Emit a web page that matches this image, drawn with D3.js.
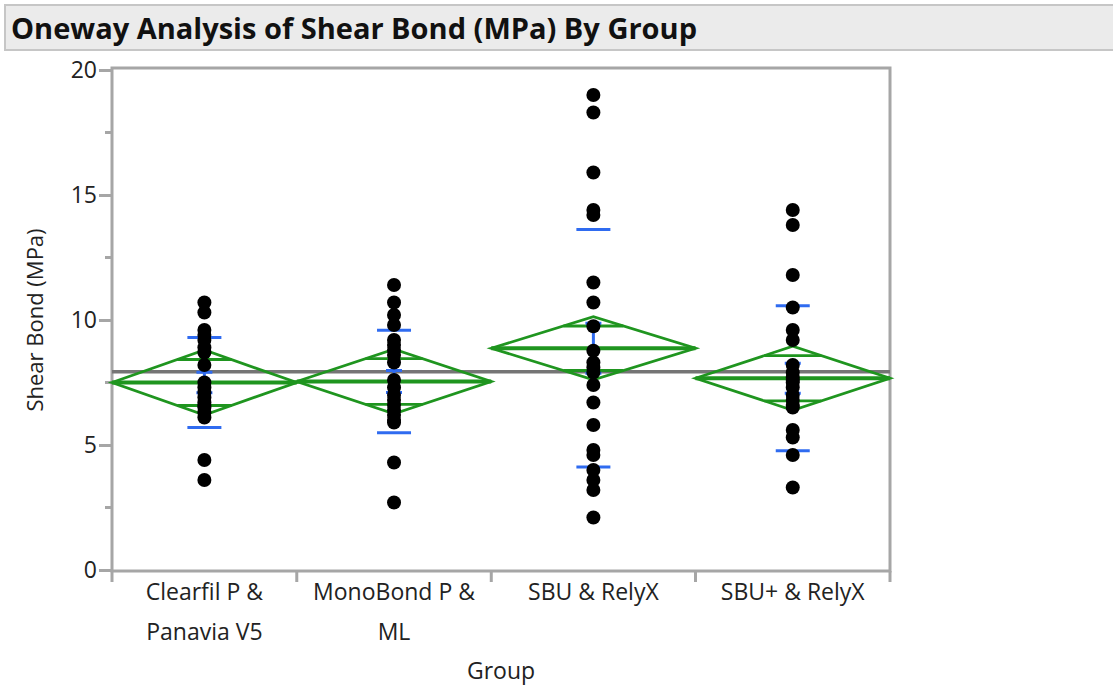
<!DOCTYPE html>
<html>
<head>
<meta charset="utf-8">
<script src="https://cdn.jsdelivr.net/npm/d3@7"></script>
<style>
  body { margin: 0; background: #fff; font-family: "Open Sans", "Noto Sans", sans-serif; }
</style>
</head>
<body>
<script>
// Group names and the points
const groups = ["Clearfil P & Panavia V5", "MonoBond P & ML", "SBU & RelyX", "SBU+ & RelyX"];
const groupLabels = [["Clearfil P &", "Panavia V5"], ["MonoBond P &", "ML"], ["SBU & RelyX"], ["SBU+ & RelyX"]];

const clearfil = [10.7, 10.3, 9.6, 9.4, 9.2, 8.9, 8.7, 8.2, 7.5, 7.3, 7.1, 6.9, 6.7, 6.6, 6.5, 6.3, 6.1, 4.4, 3.6];
const monobond = [11.4, 10.7, 10.2, 9.8, 9.2, 9.0, 8.8, 8.6, 8.3, 7.6, 7.3, 7.0, 6.8, 6.6, 6.4, 6.2, 6.0, 5.9, 4.3, 2.7];
const sbu = [19.0, 18.3, 15.9, 14.4, 14.2, 11.5, 10.7, 9.75, 8.77, 8.3, 8.1, 7.9, 7.4, 6.7, 5.8, 4.8, 4.6, 4.0, 3.6, 3.2, 2.1];
const sbuPlus = [14.4, 13.8, 11.8, 10.5, 9.6, 9.2, 8.2, 7.9, 7.7, 7.6, 7.5, 7.3, 7.0, 6.8, 6.6, 6.5, 5.6, 5.3, 4.6, 3.3];

// summary stats
const means = [7.50, 7.54, 8.87, 7.67];
const ciHalf = [1.30, 1.29, 1.26, 1.28];
const stdDev = [1.80, 2.05, 4.75, 2.90];
const stdErr = [0.41, 0.44, 1.00, 0.60];
const grandMean = 7.93;

const yTicks = [0, 5, 10, 15, 20];
const yMinor = [2.5, 7.5, 12.5, 17.5];

const series = [clearfil, monobond, sbu, sbuPlus];

const margin = { top: 70, left: 112, right: 223, bottom: 116 };
const W = 1113, H = 686;
const labelSize = 23;

const svg = d3.select("body").append("svg")
    .attr("width", W)
    .attr("height", H);

// Title bar
svg.append("rect")
    .attr("x", 5).attr("y", 5)
    .attr("width", W).attr("height", 45)
    .attr("fill", "#ebebeb")
    .attr("stroke", "#c6c6c6")
    .attr("stroke-width", 2);

svg.append("text")
    .attr("x", 11).attr("y", 39)
    .attr("font-size", 28.5)
    .attr("font-weight", "bold")
    .attr("fill", "#111")
    .attr("textLength", 686)
    .attr("lengthAdjust", "spacingAndGlyphs")
    .text("Oneway Analysis of Shear Bond (MPa) By Group");

// x positions: each group gets width proportional to its count
const counts = series.map(d => d.length);
const cum = [0];
counts.forEach(c => cum.push(cum[cum.length - 1] + c));
const x = d3.scaleLinear()
    .domain([0, cum[cum.length - 1]])
    .range([margin.left, W - margin.right]);

const y = d3.scaleLinear()
    .domain([0, 20])
    .range([H - margin.bottom, margin.top]);

const plotL = x.range()[0], plotR = x.range()[1];
const plotT = y(20) - 2, plotB = y(0) + 1;

// frame
svg.append("rect")
    .attr("x", plotL).attr("y", plotT)
    .attr("width", plotR - plotL).attr("height", plotB - plotT)
    .attr("fill", "none")
    .attr("stroke", "#a6a6a6")
    .attr("stroke-width", 3);

// Y axis
const yAxis = svg.append("g")
    .attr("transform", `translate(${plotL},0)`)
    .call(d3.axisLeft(y).tickValues(yTicks).tickSize(13).tickPadding(2).tickFormat(d3.format("d")));
yAxis.select(".domain").remove();
yAxis.selectAll("line").attr("stroke", "#a6a6a6").attr("stroke-width", 3);
yAxis.selectAll("text").attr("font-size", labelSize).attr("fill", "#222").attr("font-family", "Open Sans, sans-serif");

svg.append("g").selectAll("line")
    .data(yMinor).enter().append("line")
    .attr("x1", plotL - 7).attr("x2", plotL)
    .attr("y1", d => y(d)).attr("y2", d => y(d))
    .attr("stroke", "#a6a6a6").attr("stroke-width", 3);

// X axis: ticks at group boundaries
svg.append("g").selectAll("line")
    .data(cum).enter().append("line")
    .attr("x1", d => x(d)).attr("x2", d => x(d))
    .attr("y1", plotB).attr("y2", plotB + 11)
    .attr("stroke", "#a6a6a6").attr("stroke-width", 3);

const centers = counts.map((c, i) => x(cum[i] + c / 2));

groupLabels.forEach(function(lines, i) {
    lines.forEach(function(t, j) {
        svg.append("text")
            .attr("x", centers[i])
            .attr("y", 600 + j * 40)
            .attr("text-anchor", "middle")
            .attr("font-size", labelSize)
            .attr("fill", "#222")
            .text(t);
    });
});

svg.append("text")
    .attr("x", (plotL + plotR) / 2)
    .attr("y", 679)
    .attr("text-anchor", "middle")
    .attr("font-size", labelSize)
    .attr("fill", "#222")
    .text("Group");

svg.append("text")
    .attr("transform", `translate(43,${y(10)}) rotate(-90)`)
    .attr("text-anchor", "middle")
    .attr("font-size", 22)
    .attr("fill", "#222")
    .text("Shear Bond (MPa)");

// Grand mean line
svg.append("line")
    .attr("x1", plotL).attr("x2", plotR)
    .attr("y1", y(grandMean)).attr("y2", y(grandMean))
    .attr("stroke", "#757575")
    .attr("stroke-width", 3.5);

const green = "#1f951f";
const blue = "#2f6bf0";

// Means diamonds
groups.forEach(function(g, i) {
    const l = x(cum[i]), r = x(cum[i + 1]), c = centers[i];
    const hw = (r - l) / 2;
    const m = means[i], h = ciHalf[i];
    const dg = svg.append("g");
    dg.append("path")
        .attr("d", `M${l},${y(m)} L${c},${y(m + h)} L${r},${y(m)} L${c},${y(m - h)} Z`)
        .attr("fill", "none")
        .attr("stroke", green)
        .attr("stroke-width", 2.8);
    dg.append("line")
        .attr("x1", l).attr("x2", r)
        .attr("y1", y(m)).attr("y2", y(m))
        .attr("stroke", green).attr("stroke-width", 4);
    // overlap marks
    const off = h / Math.SQRT2;
    const ow = hw * (1 - 1 / Math.SQRT2);
    [m + off, m - off].forEach(function(v) {
        dg.append("line")
            .attr("x1", c - ow).attr("x2", c + ow)
            .attr("y1", y(v)).attr("y2", y(v))
            .attr("stroke", green).attr("stroke-width", 2.8);
    });

    // std dev lines
    [m + stdDev[i], m - stdDev[i]].forEach(function(v) {
        svg.append("line")
            .attr("x1", c - 17).attr("x2", c + 17)
            .attr("y1", y(v)).attr("y2", y(v))
            .attr("stroke", blue).attr("stroke-width", 3);
    });
    // std error bars
    svg.append("line")
        .attr("x1", c).attr("x2", c)
        .attr("y1", y(m + stdErr[i])).attr("y2", y(m - stdErr[i]))
        .attr("stroke", blue).attr("stroke-width", 3);
    [m + stdErr[i], m - stdErr[i]].forEach(function(v) {
        svg.append("line")
            .attr("x1", c - 8).attr("x2", c + 8)
            .attr("y1", y(v)).attr("y2", y(v))
            .attr("stroke", blue).attr("stroke-width", 3);
    });
});

// Points
series.forEach(function(vals, i) {
    svg.append("g").selectAll("circle")
        .data(vals).enter().append("circle")
        .attr("cx", centers[i])
        .attr("cy", d => y(d))
        .attr("r", 7)
        .attr("fill", "#000");
});
</script>
</body>
</html>
